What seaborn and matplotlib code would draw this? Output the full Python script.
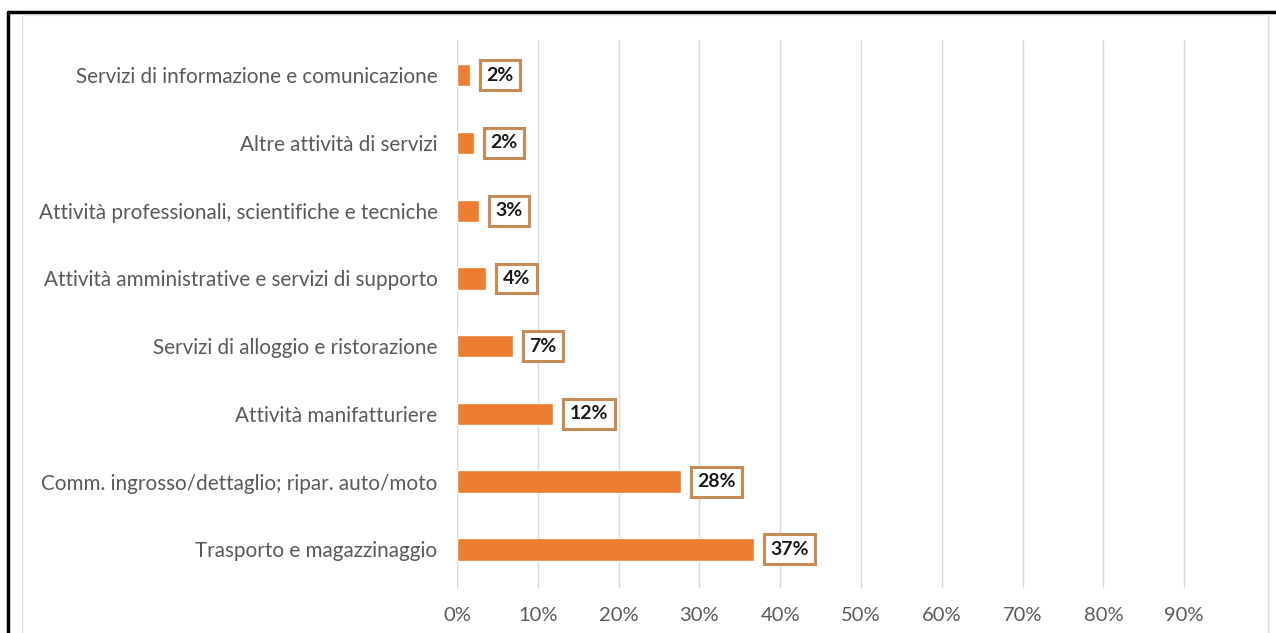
import matplotlib
matplotlib.use("Agg")
import matplotlib.pyplot as plt
from matplotlib.lines import Line2D
import seaborn as sns
import pandas as pd

categories = [
    "Servizi di informazione e comunicazione",
    "Altre attività di servizi",
    "Attività professionali, scientifiche e tecniche",
    "Attività amministrative e servizi di supporto",
    "Servizi di alloggio e ristorazione",
    "Attività manifatturiere",
    "Comm. ingrosso/dettaglio; ripar. auto/moto",
    "Trasporto e magazzinaggio",
]
shares = [0.016, 0.021, 0.027, 0.036, 0.069, 0.119, 0.277, 0.367]
labels = ["2%", "2%", "3%", "4%", "7%", "12%", "28%", "37%"]
ticks = [0.0, 0.1, 0.2, 0.3, 0.4, 0.5, 0.6, 0.7, 0.8, 0.9]

df = pd.DataFrame({"categoria": categories, "quota": shares})

sns.set_theme(style="white")
plt.rcParams["font.family"] = ["Lato", "DejaVu Sans"]

fig = plt.figure(figsize=(12.76, 6.33), dpi=100)
ax = fig.add_axes([457 / 1276, 1 - 588 / 633, (1265 - 457) / 1276, (588 - 40) / 633])

sns.barplot(data=df, x="quota", y="categoria", color="#ED7D31", width=0.33,
            saturation=1, ax=ax, zorder=3)

ax.set_xlim(0, 1.0)
ax.set_ylim(7.57, -0.52)
ax.set_xticks(ticks)
ax.set_xticklabels([f"{int(round(t * 100))}%" for t in ticks])
ax.grid(axis="x", color="#d9d9d9", linewidth=1, zorder=0)
ax.grid(axis="y", visible=False)
for s in ax.spines.values():
    s.set_visible(False)
ax.set_xlabel("")
ax.set_ylabel("")
ax.tick_params(axis="x", labelsize=14.5, labelcolor="#595959", length=0, pad=14)
ax.tick_params(axis="y", labelsize=14.9, labelcolor="#595959", length=0, pad=14)

for i, (v, lab) in enumerate(zip(shares, labels)):
    ax.annotate(lab, xy=(v, i), xytext=(12, 0), textcoords="offset points",
                va="center", ha="left", fontsize=14, fontweight="bold",
                color="#1a1a1a", zorder=4,
                bbox=dict(boxstyle="square,pad=0.33", fc="white",
                          ec="#C68B57", lw=2.2))

# outer frame
fig.add_artist(Line2D([8 / 1276, 8 / 1276], [0, 1 - 12 / 633], transform=fig.transFigure,
                      color="black", lw=2.5))
fig.add_artist(Line2D([8 / 1276, 1], [1 - 12 / 633, 1 - 12 / 633], transform=fig.transFigure,
                      color="black", lw=2.5))
fig.add_artist(Line2D([22 / 1276, 22 / 1276], [0, 1 - 15 / 633], transform=fig.transFigure,
                      color="#dddddd", lw=1))
fig.add_artist(Line2D([1268 / 1276, 1268 / 1276], [0, 1 - 15 / 633], transform=fig.transFigure,
                      color="#dddddd", lw=1))
fig.add_artist(Line2D([22 / 1276, 1268 / 1276], [1 - 15 / 633, 1 - 15 / 633], transform=fig.transFigure,
                      color="#eeeeee", lw=1))

fig.savefig("out.png", dpi=100)
